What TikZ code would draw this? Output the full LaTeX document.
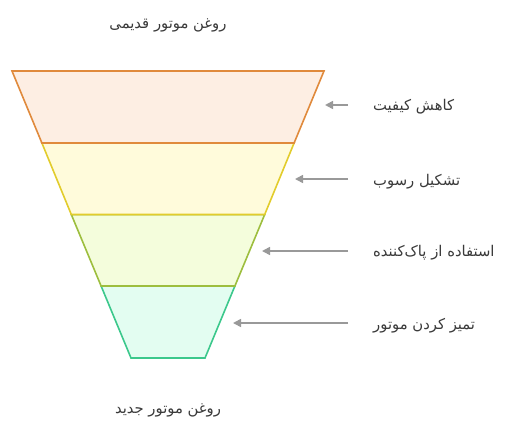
\documentclass[tikz,border=0pt]{standalone}
\usepackage{fontspec}
\newfontfamily\arabicfont[Script=Arabic]{DejaVu Sans}
\TeXXeTstate=1
\usetikzlibrary{arrows.meta}
\definecolor{lineA}{HTML}{E08A3C}\definecolor{fillA}{HTML}{FDEEE3}
\definecolor{lineB}{HTML}{E2CC2C}\definecolor{fillB}{HTML}{FFFBDB}
\definecolor{lineC}{HTML}{9DBE3E}\definecolor{fillC}{HTML}{F4FDDC}
\definecolor{lineD}{HTML}{3CC88C}\definecolor{fillD}{HTML}{E3FDF1}
\definecolor{txt}{HTML}{3A3A3A}
\definecolor{arr}{HTML}{999999}
\begin{document}
\begin{tikzpicture}[x=1pt,y=-1pt,
  band/.style={line width=1.6pt,line join=miter},
  lbl/.style={font=\arabicfont\fontsize{14.8}{18}\selectfont,text=txt,inner sep=0pt},
  pointer/.style={draw=arr,line width=1.6pt,-{Triangle[length=8pt,width=8pt]}}]
\useasboundingbox (0,0) rectangle (513,441);
% bands, drawn bottom to top
\draw[band,draw=lineD,fill=fillD] (101.1,286) -- (234.9,286) -- (205,358) -- (131,358) -- cycle;
\draw[band,draw=lineC,fill=fillC] (71.3,214.5) -- (264.7,214.5) -- (234.9,286) -- (101.1,286) -- cycle;
\draw[band,draw=lineB,fill=fillB] (41.9,143) -- (294.1,143) -- (264.7,214.5) -- (71.3,214.5) -- cycle;
\draw[band,draw=lineA,fill=fillA] (12,71) -- (324,71) -- (294.1,143) -- (41.9,143) -- cycle;
% anchor coordinates on the right edge
\coordinate (eA) at (325,105);
\coordinate (eB) at (295,179);
\coordinate (eC) at (262,251);
\coordinate (eD) at (233,323);
\coordinate (sA) at (348,105);
\coordinate (sB) at (348,179);
\coordinate (sC) at (348,251);
\coordinate (sD) at (348,323);
% labels
\node[lbl,anchor=west] (tA) at (373,107) {\beginR کاهش کیفیت\endR};
\node[lbl,anchor=west] (tB) at (373,182) {\beginR تشکیل رسوب\endR};
\node[lbl,anchor=west] (tC) at (373,253) {\beginR استفاده از پاک‌کننده\endR};
\node[lbl,anchor=west] (tD) at (373,326) {\beginR تمیز کردن موتور\endR};
\node[lbl] (top) at (168,25) {\beginR روغن موتور قدیمی\endR};
\node[lbl] (bot) at (168,410) {\beginR روغن موتور جدید\endR};
% arrows
\draw[pointer] (sA) -- (eA);
\draw[pointer] (sB) -- (eB);
\draw[pointer] (sC) -- (eC);
\draw[pointer] (sD) -- (eD);
\end{tikzpicture}
\end{document}
